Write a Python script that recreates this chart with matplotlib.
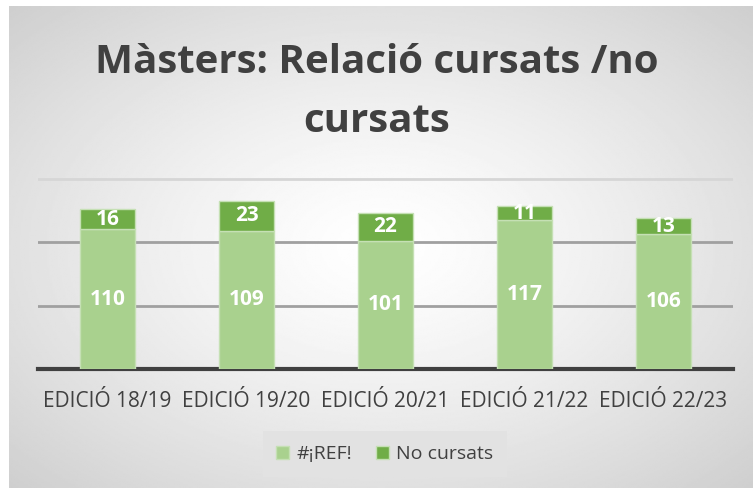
import numpy as np
import matplotlib.pyplot as plt

categories = ["EDICIÓ 18/19", "EDICIÓ 19/20", "EDICIÓ 20/21", "EDICIÓ 21/22", "EDICIÓ 22/23"]
ref_vals = [110, 109, 101, 117, 106]
no_cursats = [16, 23, 22, 11, 13]
series_names = ["#¡REF!", "No cursats"]
title_lines = ["Màsters: Relació cursats /no", "cursats"]

plt.rcParams['font.family'] = ['Open Sans', 'DejaVu Sans']

W, H = 753, 488
fig = plt.figure(figsize=(W / 100, H / 100), dpi=100)
fig.patch.set_facecolor('white')

# radial gray gradient background (chart area starts a few px in from top/left)
bg = fig.add_axes([9 / W, 0, 1 - 9 / W, 1 - 6 / H], zorder=-10)
yy, xx = np.mgrid[-1:1:300j, -1:1:460j]
r = np.sqrt(xx**2 + yy**2) / np.sqrt(2)
bg.imshow(1 - 0.19 * r**1.3, cmap='gray', vmin=0, vmax=1, aspect='auto', extent=[0, 1, 0, 1])
bg.set_xlim(0, 1)
bg.set_ylim(0, 1)
bg.axis('off')

ax = fig.add_axes([38 / W, 1 - 369 / H, 695 / W, 193 / H])
ax.patch.set_alpha(0)
x = np.arange(len(categories))
b1 = ax.bar(x, ref_vals, width=0.4, color='#a9d18e', edgecolor='#c5e0b4', lw=1,
            label=series_names[0], zorder=3)
b2 = ax.bar(x, no_cursats, width=0.4, bottom=ref_vals, color='#70ad47', edgecolor='#c5e0b4', lw=1,
            label=series_names[1], zorder=3)
ax.bar_label(b1, label_type='center', color='white', fontsize=15, fontweight='bold')
ax.bar_label(b2, label_type='center', color='white', fontsize=15, fontweight='bold')

ax.set_xlim(-0.5, 4.5)
ax.set_ylim(0, 152)
ax.axhline(50, color='#a0a0a0', lw=2, zorder=1)
ax.axhline(100, color='#a0a0a0', lw=2, zorder=1)
ax.axhline(150, color='#d6d6d6', lw=2, zorder=1)
ax.set_yticks([])
ax.tick_params(axis='x', length=0, pad=16, labelsize=15, labelcolor='#404040')
ax.set_xticks(x)
ax.set_xticklabels(categories)
for s in ['top', 'left', 'right']:
    ax.spines[s].set_visible(False)
ax.spines['bottom'].set_color('#404040')
ax.spines['bottom'].set_linewidth(3)

fig.text(0.5, 1 - 73 / H, title_lines[0], ha='center', va='baseline',
         fontsize=29, fontweight='bold', color='#404040')
fig.text(0.5, 1 - 132 / H, title_lines[1], ha='center', va='baseline',
         fontsize=29, fontweight='bold', color='#404040')

leg = fig.legend(loc='center', bbox_to_anchor=(385 / W, 1 - 454 / H), ncol=2, frameon=True,
                 fontsize=14, handlelength=0.65, handleheight=0.65, handletextpad=0.4,
                 columnspacing=1.2, borderpad=0.7)
leg.get_frame().set_facecolor('#e2e2e2')
leg.get_frame().set_edgecolor('none')
leg.get_frame().set_alpha(1)
leg.get_frame().set_boxstyle('square', pad=0)
for t in leg.get_texts():
    t.set_color('#404040')

fig.savefig('out.png', dpi=100)
